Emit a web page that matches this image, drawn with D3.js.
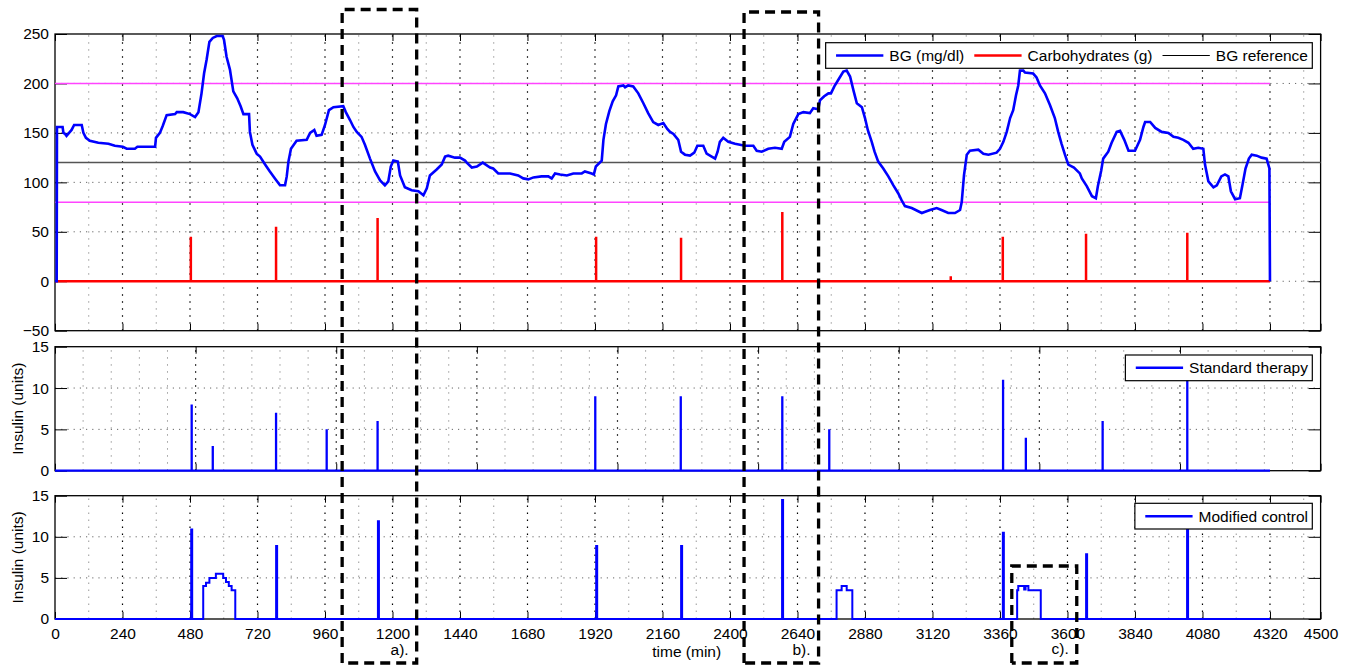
<!DOCTYPE html>
<html>
<head>
<meta charset="utf-8">
<script src="https://cdn.jsdelivr.net/npm/d3@7"></script>
<style>
  body { margin: 0; background: #fff; }
  text { font-family: 'Liberation Sans', Arial, Helvetica, sans-serif; font-size: 15.5px; fill: #000; }
</style>
</head>
<body>
<svg></svg>
<script>
const width = 1351, height = 666;
const xMax = 4500, tEnd = 4320;

// blood glucose (mg/dl) over time (min)
const bgData = [
  [0,0],[6,0],[7,156],[27,156],[30,150],[36,149],[41,147],[50,150],[59,153],[68,158],[95,158],[101,150],
  [110,145],[124,142],[154,140],[190,139],[213,137],[241,136],[255,134],[284,134],[293,136],[356,136],
  [359,145],[373,150],[383,157],[397,168],[427,169],[433,171],[456,171],[480,169],[498,166],[510,171],
  [521,190],[530,210],[539,224],[549,242],[561,246],[575,248],[596,248],[601,244],[610,227],[622,214],
  [634,192],[648,185],[660,177],[670,169],[690,169],[693,151],[702,138],[717,129],[729,126],[747,118],
  [764,111],[782,104],[800,97],[818,97],[824,106],[830,121],[839,134],[859,142],[895,143],[907,150],
  [922,153],[930,147],[948,148],[960,158],[974,173],[990,176],[1025,177],[1034,171],[1049,163],[1061,156],
  [1073,151],[1090,146],[1102,138],[1120,124],[1138,111],[1156,102],[1173,97],[1185,101],[1194,116],
  [1203,122],[1219,121],[1227,107],[1244,95],[1268,92],[1292,91],[1310,87],[1322,94],[1333,107],[1357,113],
  [1375,118],[1387,126],[1398,127],[1422,125],[1440,125],[1458,122],[1464,120],[1482,115],[1500,116],
  [1521,120],[1547,115],[1558,114],[1576,109],[1594,109],[1618,109],[1647,107],[1665,104],[1683,103],
  [1701,105],[1730,106],[1754,106],[1766,104],[1778,109],[1796,108],[1820,107],[1843,109],[1873,109],
  [1884,111],[1908,109],[1916,108],[1923,116],[1944,122],[1950,143],[1959,159],[1971,172],[1983,182],
  [1995,188],[2003,197],[2021,198],[2027,196],[2038,198],[2056,197],[2074,190],[2092,180],[2109,170],
  [2127,161],[2145,158],[2163,160],[2177,154],[2187,151],[2199,149],[2216,143],[2226,131],[2240,128],
  [2258,127],[2273,130],[2284,137],[2305,137],[2317,129],[2335,126],[2347,124],[2356,131],[2364,141],
  [2376,145],[2394,141],[2418,139],[2453,137],[2483,137],[2495,132],[2513,131],[2536,134],[2560,135],
  [2584,134],[2593,141],[2613,146],[2625,159],[2643,169],[2661,171],[2684,170],[2696,175],[2714,174],
  [2720,183],[2735,187],[2750,190],[2759,190],[2771,197],[2788,205],[2803,212],[2815,213],[2827,207],
  [2839,193],[2851,180],[2869,176],[2880,165],[2890,153],[2904,141],[2914,131],[2927,121],[2945,114],
  [2963,106],[2981,97],[2998,89],[3010,82],[3022,76],[3046,74],[3082,69],[3111,72],[3135,74],[3152,72],
  [3176,69],[3200,69],[3218,72],[3224,80],[3232,107],[3242,128],[3253,132],[3283,133],[3301,129],
  [3319,128],[3348,130],[3360,134],[3372,141],[3384,151],[3396,165],[3407,173],[3417,188],[3425,198],
  [3431,213],[3443,213],[3449,211],[3478,210],[3490,206],[3502,198],[3520,190],[3538,178],[3555,165],
  [3567,151],[3579,139],[3591,128],[3603,118],[3623,115],[3644,109],[3651,104],[3669,96],[3687,86],
  [3701,84],[3708,96],[3720,112],[3727,124],[3745,131],[3757,140],[3775,151],[3787,152],[3802,143],
  [3817,132],[3840,132],[3858,143],[3870,156],[3876,161],[3894,161],[3912,155],[3935,151],[3959,150],
  [3977,146],[3994,145],[4012,143],[4030,140],[4047,134],[4065,135],[4083,134],[4089,118],[4101,101],
  [4119,95],[4131,97],[4147,106],[4160,108],[4172,106],[4181,91],[4196,83],[4213,84],[4222,97],[4233,114],
  [4245,124],[4255,128],[4273,127],[4290,125],[4308,124],[4318,114],[4320,0]
];

// carbohydrate intake (g)
const carbs = [[483,45],[786,55],[1147,64],[1924,45],[2226,44],[2586,70],[3185,5],[3370,45],[3666,48],[4026,49]];

// insulin boluses (units)
const stdBolus = [[486,8],[561,3],[786,7],[966,5],[1147,6],[1921,9],[2225,9],[2586,9],[2753,5],[3371,11],[3452,4],[3725,6],[4026,13]];
const modBolus = [[486,11],[788,9],[1150,12],[1926,9],[2228,9],[2587,14.6],[3372,10.6],[3668,8],[4027,13]];
// modified control basal steps [start time, units]
const modBasal = [
  [0,0],[527,4],[537,4.4],[549,5],[572,5.5],[598,5],[608,4.5],[618,4],[628,3.5],[641,0],
  [2779,3.5],[2797,4],[2815,3.5],[2835,0],
  [3421,3.5],[3425,4],[3446,3.6],[3451,4],[3461,3.5],[3505,0],[4320,0]
];

const bgRef = 120;
const bgLimits = [80, 200];

const xTicks = d3.range(0, 4321, 240).concat([4500]);
const xMinor = d3.range(120, 4500, 240);
const midTicks = d3.range(0, 4501, 500);
const midMinor = d3.range(100, 4500, 100).filter(d => d % 500 !== 0);
const bgTicks = [-50, 0, 50, 100, 150, 200, 250];
const insTicks = [0, 5, 10, 15];

const boxes = [
  {label: 'a).', t0: 1021, t1: 1286, top: 9.5, base: 655},
  {label: 'b).', t0: 2450, t1: 2715, top: 12, base: 655},
  {label: 'c).', t0: 3402, t1: 3633, top: 566, base: 654}
];

const svg = d3.select('svg')
  .attr('width', width)
  .attr('height', height)
  .style('background-color', '#fff');

const x = d3.scaleLinear().domain([0, xMax]).range([55, 1320.6]);

const yBG = d3.scaleLinear().domain([-50, 250]).range([330.7, 34]);
const yStd = d3.scaleLinear().domain([0, 15]).range([470.7, 346.7]);
const yMod = d3.scaleLinear().domain([0, 15]).range([619, 495.7]);

const drawPanel = (y, yTicks, major, minor, showX) => {
  const g = svg.append('g');
  const [y0, y1] = y.range();
  // minor vertical grid
  g.selectAll('.vminor').data(minor).enter().append('line')
    .attr('x1', d => x(d)).attr('x2', d => x(d))
    .attr('y1', y0).attr('y2', y1)
    .attr('stroke', '#9a9a9a').attr('stroke-width', 1)
    .attr('stroke-dasharray', '1.5,5.5');
  // major vertical grid
  g.selectAll('.vmajor').data(major.filter(d => d > 0 && d < xMax)).enter().append('line')
    .attr('x1', d => x(d)).attr('x2', d => x(d))
    .attr('y1', y0).attr('y2', y1)
    .attr('stroke', '#000').attr('stroke-width', 1.2)
    .attr('stroke-dasharray', '1.5,5.5');
  // horizontal grid
  const [dMin, dMax] = y.domain();
  g.selectAll('.hgrid').data(yTicks.filter(d => d > dMin && d < dMax)).enter().append('line')
    .attr('x1', x(0)).attr('x2', x(xMax))
    .attr('y1', d => y(d)).attr('y2', d => y(d))
    .attr('stroke', '#666').attr('stroke-width', 1)
    .attr('stroke-dasharray', '1.2,5');
  // frame
  g.append('rect')
    .attr('x', x(0)).attr('y', y1)
    .attr('width', x(xMax) - x(0)).attr('height', y0 - y1)
    .attr('fill', 'none').attr('stroke', '#000').attr('stroke-width', 1.3);

  const axes = svg.append('g');
  axes.append('g').attr('transform', `translate(${x(0)},0)`)
    .call(d3.axisLeft(y).tickValues(yTicks).tickSizeInner(-12).tickSizeOuter(0).tickPadding(6))
    .call(a => a.select('.domain').remove());
  axes.append('g').attr('transform', `translate(${x(xMax)},0)`)
    .call(d3.axisRight(y).tickValues(yTicks).tickSizeInner(-12).tickSizeOuter(0).tickFormat(''))
    .call(a => a.select('.domain').remove());
  axes.append('g').attr('transform', `translate(0,${y0})`)
    .call(d3.axisBottom(x).tickValues(major).tickSizeInner(-7).tickSizeOuter(0).tickPadding(9)
      .tickFormat(showX ? d3.format('d') : ''))
    .call(a => a.select('.domain').remove());
  axes.append('g').attr('transform', `translate(0,${y1})`)
    .call(d3.axisTop(x).tickValues(major).tickSizeInner(-7).tickSizeOuter(0).tickFormat(''))
    .call(a => a.select('.domain').remove());
  axes.selectAll('.tick text').attr('font-size', null).attr('font-family', null);
  axes.selectAll('.tick line').attr('stroke', '#000');
  axes.selectAll('.tick text').style('font-size', '15.5px');
  return g;
};

drawPanel(yBG, bgTicks, xTicks, xMinor, false);
drawPanel(yStd, insTicks, midTicks, midMinor, false);
drawPanel(yMod, insTicks, xTicks, xMinor, true);

// ---- top panel data
const gTop = svg.append('g');
bgLimits.forEach(v => {
  gTop.append('line')
    .attr('x1', x(0)).attr('x2', x(tEnd))
    .attr('y1', yBG(v)).attr('y2', yBG(v))
    .attr('stroke', '#ff44ff').attr('stroke-width', 1.5);
});
gTop.append('line')
  .attr('x1', x(0)).attr('x2', x(xMax))
  .attr('y1', yBG(bgRef)).attr('y2', yBG(bgRef))
  .attr('stroke', '#555').attr('stroke-width', 1.5);

const spikePath = (events, y) =>
  `M${x(0)},${y(0)}H${x(tEnd)}` + events.map(([t, v]) => `M${x(t)},${y(0)}V${y(v)}`).join('');

gTop.append('path')
  .attr('d', spikePath(carbs, yBG))
  .attr('fill', 'none').attr('stroke', '#ff0000').attr('stroke-width', 2.5);

gTop.append('path')
  .datum(bgData)
  .attr('d', d3.line().x(d => x(d[0])).y(d => yBG(d[1])))
  .attr('fill', 'none').attr('stroke', '#0000ff').attr('stroke-width', 2.6)
  .attr('stroke-linejoin', 'miter');

// ---- standard therapy
svg.append('path')
  .attr('d', spikePath(stdBolus, yStd))
  .attr('fill', 'none').attr('stroke', '#0000ff').attr('stroke-width', 2.3);

// ---- modified control
svg.append('path')
  .datum(modBasal)
  .attr('d', d3.line().x(d => x(d[0])).y(d => yMod(d[1])).curve(d3.curveStepAfter))
  .attr('fill', 'none').attr('stroke', '#0000ff').attr('stroke-width', 2);
svg.append('path')
  .attr('d', modBolus.map(([t, v]) => `M${x(t)},${yMod(0)}V${yMod(v)}`).join(''))
  .attr('fill', 'none').attr('stroke', '#0000ff').attr('stroke-width', 3);

// ---- legends
const legend = (items, right, top, h) => {
  const g = svg.append('g');
  const box = g.append('rect');
  let cx = 10.4;
  const entries = g.append('g');
  items.forEach(it => {
    entries.append('line')
      .attr('x1', cx).attr('x2', cx + 47.3)
      .attr('y1', h / 2).attr('y2', h / 2)
      .attr('stroke', it.color).attr('stroke-width', it.w);
    const t = entries.append('text')
      .attr('x', cx + 53.3).attr('y', h / 2).attr('dy', '0.36em')
      .text(it.label);
    cx += 53.3 + t.node().getComputedTextLength() + 10;
  });
  const w = cx - 10 + 4.3;
  box.attr('x', 0).attr('y', 0).attr('width', w).attr('height', h)
    .attr('fill', '#fff').attr('stroke', '#000').attr('stroke-width', 1.2);
  g.attr('transform', `translate(${right - w},${top})`);
};

legend([
  {label: 'BG (mg/dl)', color: '#0000ff', w: 2.5},
  {label: 'Carbohydrates (g)', color: '#ff0000', w: 2.5},
  {label: 'BG reference', color: '#000', w: 1}
], 1312.3, 42.7, 25.6);
legend([{label: 'Standard therapy', color: '#0000ff', w: 2.5}], 1312.3, 355, 25.7);
legend([{label: 'Modified control', color: '#0000ff', w: 2.5}], 1312.3, 503.3, 25.7);

// ---- axis labels
[yStd, yMod].forEach(y => {
  const [a, b] = y.range();
  svg.append('text')
    .attr('transform', `translate(23,${(a + b) / 2}) rotate(-90)`)
    .attr('text-anchor', 'middle')
    .text('Insulin (units)');
});
svg.append('text')
  .attr('x', 686.7).attr('y', 657)
  .attr('text-anchor', 'middle')
  .text('time (min)');

// ---- dashed annotation boxes
boxes.forEach(b => {
  svg.append('path')
    .attr('d', `M${x(b.t0)},${height - 3}V${b.top}H${x(b.t1)}V${height - 3}H${x(b.t0)}`)
    .attr('fill', 'none').attr('stroke', '#000').attr('stroke-width', 3.3)
    .attr('stroke-dasharray', '10,6');
  svg.append('text')
    .attr('x', x(b.t1) - 8).attr('y', b.base)
    .attr('text-anchor', 'end')
    .text(b.label);
});
</script>
</body>
</html>
